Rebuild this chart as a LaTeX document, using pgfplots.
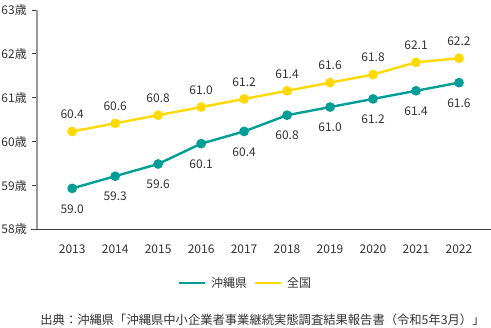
\documentclass[border=0pt]{standalone}
\usepackage{fontspec}
\setmainfont{Noto Sans CJK JP}
\usepackage{pgfplots}
\pgfplotsset{compat=1.18}
\usepackage{pgfplotstable}
\definecolor{teal1}{RGB}{0,158,150}
\definecolor{yel1}{RGB}{255,217,0}
\definecolor{txt}{RGB}{51,51,51}
\pgfplotstableread{
year oki zen
2013 59.0 60.4
2014 59.3 60.6
2015 59.6 60.8
2016 60.1 61.0
2017 60.4 61.2
2018 60.8 61.4
2019 61.0 61.6
2020 61.2 61.8
2021 61.4 62.1
2022 61.6 62.2
}\datatable
\begin{document}
\fontsize{12bp}{14bp}\selectfont
\begin{tikzpicture}
\useasboundingbox (0,0) rectangle (491bp,328bp);
\begin{axis}[
  at={(37bp,98.7bp)}, anchor=south west,
  scale only axis, width=454bp, height=219.3bp,
  xmin=2012.181, xmax=2022.745,
  ymin=57.994, ymax=63.387,
  axis lines*=left,
  x axis line style={draw=black!75, line width=0.8pt, shorten <=-5.5bp},
  y axis line style={draw=black!40, line width=1.2pt},
  xtick={2013,...,2022},
  xticklabels={2013,2014,2015,2016,2017,2018,2019,2020,2021,2022},
  x tick style={draw=none},
  ytick={57.994,59.072,60.151,61.230,62.309,63.387},
  yticklabels={58歳,59歳,60歳,61歳,62歳,63歳},
  y tick style={draw=black!75, line width=0.8pt},
  tick align=outside, major tick length=5bp,
  ticklabel style={font=\fontsize{12bp}{14bp}\selectfont, text=txt},
  xticklabel style={yshift=-6bp},
  yticklabel style={xshift=-1bp},
  /pgf/number format/.cd, fixed, fixed zerofill, precision=1, assume math mode=true,
  /pgfplots/.cd,
  clip=false,
  legend columns=2,
  legend style={at={(0.463,-0.245)}, anchor=center, draw=none, fill=none,
    font=\fontsize{12bp}{14bp}\selectfont, text=txt,
    nodes={inner xsep=5bp},
    /tikz/every even column/.append style={column sep=2bp}},
  legend image code/.code={\draw[line width=2pt] (0bp,0bp) -- (26bp,0bp);},
  every node near coord/.append style={font=\fontsize{12bp}{14bp}\selectfont, text=txt, anchor=center},
]
\addplot[teal1, line width=2.4pt, mark=*, mark size=3.6bp, mark options={draw=teal1, fill=teal1},
  point meta=explicit, nodes near coords,
  every node near coord/.append style={yshift=-20.5bp}]
  table[x=year, y=oki, meta=oki] {\datatable};
\addlegendentry{沖縄県}
\addplot[yel1, line width=2.4pt, mark=*, mark size=3.6bp, mark options={draw=yel1, fill=yel1},
  point meta=explicit, nodes near coords,
  every node near coord/.append style={yshift=17bp}]
  table[x=year, y=zen, meta=zen] {\datatable};
\addlegendentry{全国}
\end{axis}
\node[text=txt, font=\fontsize{12.3bp}{14bp}\selectfont] at (262.5bp,8bp) {出典：沖縄県「沖縄県中小企業者事業継続実態調査結果報告書（令和5年3月）」};
\end{tikzpicture}
\end{document}
